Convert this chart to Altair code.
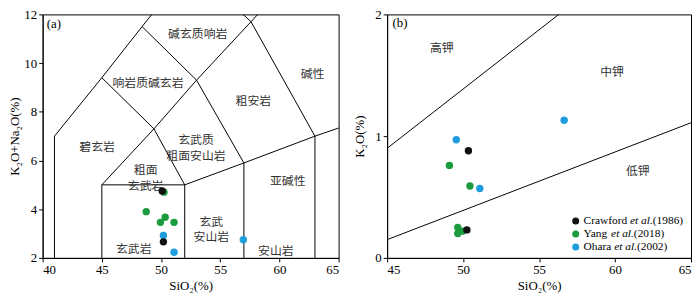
import altair as alt
import pandas as pd

# ---------------- data ----------------
# panel (a): TAS diagram, SiO2 vs K2O+Na2O
a_black_x = [50.1, 50.2]
a_black_y = [4.75, 2.66]
a_green_x = [50.25, 48.75, 50.35, 49.95, 51.1]
a_green_y = [4.70, 3.90, 3.67, 3.46, 3.46]
a_blue_x = [50.2, 51.1, 56.95]
a_blue_y = [2.92, 2.23, 2.75]

# panel (b): SiO2 vs K2O
b_black_x = [50.35, 50.25]
b_black_y = [0.88, 0.23]
b_green_x = [49.1, 50.45, 49.65, 49.65, 49.95]
b_green_y = [0.76, 0.59, 0.25, 0.20, 0.22]
b_blue_x = [49.55, 51.1, 56.65]
b_blue_y = [0.97, 0.57, 1.13]

# TAS field boundaries (polylines)
tas_lines = [
    [(41, 2), (41, 7), (45, 9.4), (48.4, 11.5), (52.5, 14)],
    [(45, 2), (45, 5), (49.4, 7.3), (53, 9.3), (57.6, 11.7), (61, 13.5)],
    [(52, 2), (52, 5), (57, 5.9), (63, 7), (69, 8)],
    [(45, 5), (52, 5)],
    [(49.4, 7.3), (52, 5)],
    [(45, 9.4), (49.4, 7.3)],
    [(48.4, 11.5), (53, 9.3), (57, 5.9), (57, 2)],
    [(52.5, 14), (57.6, 11.7), (63, 7), (63, 2)],
]
# K2O series boundaries
k_lines = [
    [(45, 0.9), (56.3, 2.0), (60, 2.36)],
    [(45, 0.15), (65, 1.11)],
]

a_labels_text = ["碱玄质响岩", "响岩质碱玄岩", "碱性", "粗安岩", "碧玄岩", "玄武质\n粗面安山岩",
                 "粗面\n玄武岩", "亚碱性", "玄武\n安山岩", "玄武岩", "安山岩"]
a_labels_x = [53.1, 48.9, 62.8, 57.8, 44.6, 52.95, 48.7, 60.7, 54.25, 47.7, 59.7]
a_labels_y = [11.2, 9.2, 9.55, 8.43, 6.55, 6.83, 5.62, 5.14, 3.49, 2.35, 2.3]

b_labels_text = ["高钾", "中钾", "低钾"]
b_labels_x = [48.6, 59.8, 61.5]
b_labels_y = [1.72, 1.53, 0.71]

series_names = ["Crawford", "Yang", "Ohara"]
series_years = ["(1986)", "(2018)", "(2002)"]
series_colors = ["#111111", "#1c9a3e", "#1e9ddc"]

SERIF = "Liberation Serif"
CJK = "Noto Sans CJK SC"


def pts(xs, ys):
    return pd.DataFrame({"x": xs, "y": ys})


def lines_df(lines):
    rows = []
    for i, ln in enumerate(lines):
        for j, (x, y) in enumerate(ln):
            rows.append({"id": i, "o": j, "x": x, "y": y})
    return pd.DataFrame(rows)


def enc(xdom, ydom, xvals, yvals, xtitle, ytitle, ytp):
    x = alt.X("x:Q", scale=alt.Scale(domain=xdom, nice=False, zero=False),
              axis=alt.Axis(values=xvals, title=xtitle, titlePadding=3, labelOverlap=False))
    y = alt.Y("y:Q", scale=alt.Scale(domain=ydom, nice=False, zero=False),
              axis=alt.Axis(values=yvals, title=ytitle, titlePadding=ytp,
                            labelExpr="format(datum.value, 'd')",
                            labelOverlap=False, labelBound=False, labelFlush=False))
    return x, y


def panel(xdom, ydom, xvals, yvals, xtitle, ytitle, ytp, lines, groups, labels, tag, tagpos):
    X, Y = enc(xdom, ydom, xvals, yvals, xtitle, ytitle, ytp)
    layers = []
    layers.append(
        alt.Chart(lines_df(lines)).mark_line(color="black", strokeWidth=1, clip=True)
        .encode(x=X, y=Y, detail="id:N", order="o:Q")
    )
    ltxt, lx, ly = labels
    layers.append(
        alt.Chart(pd.DataFrame({"x": lx, "y": ly, "t": ltxt}))
        .mark_text(font=CJK, fontSize=12, color="#333333", lineBreak="\n", lineHeight=16)
        .encode(x=X, y=Y, text="t:N")
    )
    layers.append(
        alt.Chart(pd.DataFrame({"x": [tagpos[0]], "y": [tagpos[1]], "t": [tag]}))
        .mark_text(font=SERIF, fontSize=13, align="left", color="black")
        .encode(x=X, y=Y, text="t:N")
    )
    for (xs, ys), col in groups:
        layers.append(
            alt.Chart(pts(xs, ys)).mark_circle(size=56, opacity=1, color=col)
            .encode(x=X, y=Y)
        )
    return layers, X, Y


order_groups_a = [((a_green_x, a_green_y), series_colors[1]),
                  ((a_blue_x, a_blue_y), series_colors[2]),
                  ((a_black_x, a_black_y), series_colors[0])]
order_groups_b = [((b_green_x, b_green_y), series_colors[1]),
                  ((b_blue_x, b_blue_y), series_colors[2]),
                  ((b_black_x, b_black_y), series_colors[0])]

W_A, W_B, H = 299, 307, 246

la, _, _ = panel([40, 65], [2, 12], [40, 45, 50, 55, 60, 65], [2, 4, 6, 8, 10, 12],
                 "SiO₂(%)", "K₂O+Na₂O(%)", 2, tas_lines, order_groups_a,
                 (a_labels_text, a_labels_x, a_labels_y), "(a)", (40.35, 11.6))
lb, XB, YB = panel([45, 65], [0, 2], [45, 50, 55, 60, 65], [0, 1, 2],
                   "SiO₂(%)", "K₂O(%)", 8, k_lines, order_groups_b,
                   (b_labels_text, b_labels_x, b_labels_y), "(b)", (45.35, 1.93))

# legend in panel (b), built from text marks so "et al." can be italic
FS = 11.5
leg_circle_x = 57.41
leg_text_x = 57.93
leg_rows_y = [0.304, 0.197, 0.090]
name_w = {"Crawford": 4.082 * FS, "Yang": 2.416 * FS, "Ohara": 2.693 * FS}
etal_w = 2.0 * FS
for name, year, col, yy in zip(series_names, series_years, series_colors, leg_rows_y):
    lb.append(alt.Chart(pd.DataFrame({"x": [leg_circle_x], "y": [yy]}))
              .mark_circle(size=50, opacity=1, color=col).encode(x=XB, y=YB))
    lb.append(alt.Chart(pd.DataFrame({"x": [leg_text_x], "y": [yy], "t": [name]}))
              .mark_text(font=SERIF, fontSize=FS, align="left", color="black")
              .encode(x=XB, y=YB, text="t:N"))
    lb.append(alt.Chart(pd.DataFrame({"x": [leg_text_x], "y": [yy], "t": ["et al."]}))
              .mark_text(font=SERIF, fontSize=FS, fontStyle="italic", align="left",
                         color="black", dx=name_w[name])
              .encode(x=XB, y=YB, text="t:N"))
    lb.append(alt.Chart(pd.DataFrame({"x": [leg_text_x], "y": [yy], "t": [year]}))
              .mark_text(font=SERIF, fontSize=FS, align="left", color="black",
                         dx=name_w[name] + etal_w)
              .encode(x=XB, y=YB, text="t:N"))

chart_a = alt.layer(*la).properties(width=W_A, height=H)
chart_b = alt.layer(*lb).properties(width=W_B, height=H)

chart = (
    alt.hconcat(chart_a, chart_b, spacing=14)
    .properties(padding={"left": 0, "top": -2, "right": 0, "bottom": 0})
    .configure_view(stroke="black", strokeWidth=1)
    .configure_axis(
        grid=False, domainColor="black", tickColor="black", tickSize=4,
        labelFont=SERIF, labelFontSize=13, labelColor="black", labelPadding=2,
        titleFont=SERIF, titleFontSize=13, titleFontWeight="normal", titleColor="black",
    )
)

chart.save("out.html", embed_options={"renderer": "svg", "actions": False})
